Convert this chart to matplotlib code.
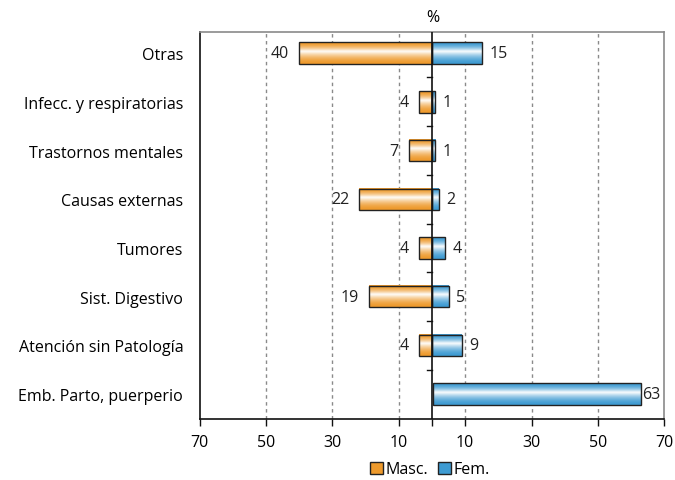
import numpy as np
import matplotlib.pyplot as plt
from matplotlib.colors import LinearSegmentedColormap
from matplotlib.patches import Patch

plt.rcParams['font.family'] = ['Open Sans', 'DejaVu Sans']

categorias = ['Otras', 'Infecc. y respiratorias', 'Trastornos mentales',
              'Causas externas', 'Tumores', 'Sist. Digestivo',
              'Atención sin Patología', 'Emb. Parto, puerperio']
masc = [40, 4, 7, 22, 4, 19, 4, 0]
fem = [15, 1, 1, 2, 4, 5, 9, 63]
ticks = [-70, -50, -30, -10, 0, 10, 30, 50, 70]
tick_labels = ['70', '50', '30', '10', '', '10', '30', '50', '70']

naranja = '#EE9A2C'
azul = '#3E9BD2'
fs = 11.5


def barra_gradiente(ax, x0, x1, y, h, color):
    # franja blanca un poco por encima del centro, como en el original
    t = np.linspace(0, 1, 64)
    d = t - 0.42
    grad = 1 - np.clip(np.where(d < 0, -d / 0.42, d / 0.58), 0, 1)
    img = np.column_stack([grad, grad]) ** 1.8
    cmap = LinearSegmentedColormap.from_list('g', [color, '#FFFFFF'])
    ax.imshow(img, cmap=cmap, vmin=0, vmax=1.0, extent=[x0, x1, y - h / 2, y + h / 2],
              aspect='auto', zorder=2, interpolation='bicubic')
    ax.add_patch(plt.Rectangle((x0, y - h / 2), x1 - x0, h, fill=False,
                               edgecolor='#222222', lw=1.0, zorder=3))


def main():
    fig = plt.figure(figsize=(6.75, 4.81), dpi=100)
    ax = fig.add_axes([0.296, 0.127, 0.688, 0.804])

    n = len(categorias)
    ys = np.arange(n)[::-1]
    h = 0.44

    for y, m, f in zip(ys, masc, fem):
        if m > 0:
            barra_gradiente(ax, -m, 0, y, h, naranja)
            ax.text(-m - 3, y, str(m), ha='right', va='center', fontsize=fs, color='#222222')
        if f > 0:
            x0 = 0.3 if m == 0 else 0
            barra_gradiente(ax, x0, f, y, h, azul)
            ax.text(f + (0.2 if f > 55 else 2.2), y, str(f), ha='left', va='center',
                    fontsize=fs, color='#222222')

    # linea del cero con marcas entre categorias
    ax.axvline(0, color='#111111', lw=1.2, zorder=4)
    for b in np.arange(n - 1) + 0.5:
        ax.plot([-1.4, 0], [b, b], color='#111111', lw=1.0, zorder=4)

    for g in [-50, -30, -10, 10, 30, 50]:
        ax.axvline(g, color='#8A8A8A', lw=1.0, ls=(0, (2.5, 2.5)), zorder=1)

    ax.set_xlim(-70, 70)
    ax.set_ylim(-0.51, n - 0.57)
    ax.set_xticks(ticks)
    ax.set_xticklabels(tick_labels, fontsize=fs)
    ax.set_yticks(ys)
    ax.set_yticklabels(categorias, fontsize=fs)
    ax.tick_params(axis='y', length=0, pad=12)
    ax.tick_params(axis='x', length=5, width=1.0, color='#111111', pad=6)

    ax.spines['left'].set_color('#111111')
    ax.spines['bottom'].set_color('#111111')
    ax.spines['top'].set_color('#8A8A8A')
    ax.spines['right'].set_color('#8A8A8A')
    for s in ax.spines.values():
        s.set_linewidth(1.2)

    fig.text(0.641, 0.962, '%', ha='center', va='center', fontsize=fs)

    handles = [Patch(facecolor=naranja, edgecolor='#222222', label='Masc.'),
               Patch(facecolor=azul, edgecolor='#222222', label='Fem.')]
    fig.legend(handles=handles, loc='center', bbox_to_anchor=(0.637, 0.022), ncol=2,
               frameon=False, fontsize=fs, handlelength=0.8, handleheight=0.8,
               handletextpad=0.2, columnspacing=0.6, borderpad=0)

    fig.savefig('out.png', dpi=100)


if __name__ == '__main__':
    main()
